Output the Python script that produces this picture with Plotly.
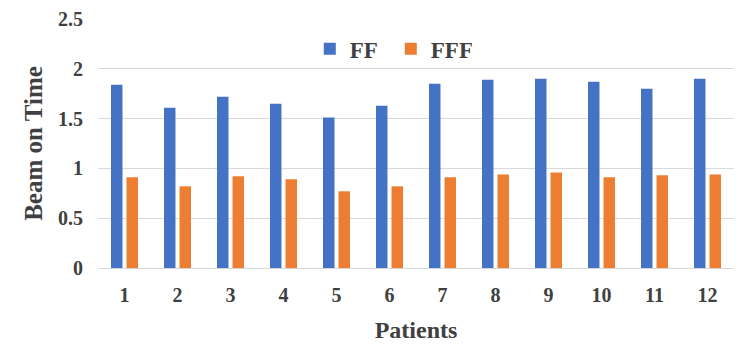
import plotly.graph_objects as go

patients = ["1", "2", "3", "4", "5", "6", "7", "8", "9", "10", "11", "12"]
ff = [1.84, 1.61, 1.72, 1.65, 1.51, 1.63, 1.85, 1.89, 1.90, 1.87, 1.80, 1.90]
fff = [0.91, 0.82, 0.92, 0.89, 0.77, 0.82, 0.91, 0.94, 0.96, 0.91, 0.93, 0.94]
y_ticks = [0, 0.5, 1, 1.5, 2, 2.5]
y_tick_labels = ["0", "0.5", "1", "1.5", "2", "2.5"]

FONT = "Liberation Serif"
TXT = "#404040"

fig = go.Figure()
fig.add_trace(go.Bar(name="FF", x=patients, y=ff, marker=dict(color="#4472C4", line=dict(width=0))))
fig.add_trace(go.Bar(name="FFF", x=patients, y=fff, marker=dict(color="#ED7D31", line=dict(width=0))))

fig.update_layout(
    width=742, height=358,
    margin=dict(l=98, r=8, t=19, b=90),
    paper_bgcolor="white", plot_bgcolor="white",
    barmode="group", bargap=0.415, bargroupgap=0.26,
    font=dict(family=FONT, color=TXT, size=20, weight="bold"),
    showlegend=True,
    legend=dict(orientation="h", x=0.333, xanchor="left", y=0.88, yanchor="middle",
                bgcolor="rgba(0,0,0,0)", font=dict(family=FONT, size=23, color=TXT, weight="bold"),
                itemwidth=30, entrywidth=36, traceorder="normal"),
    xaxis=dict(
        title=dict(text="Patients", font=dict(family=FONT, size=24, color=TXT, weight="bold"), standoff=16),
        tickfont=dict(family=FONT, size=20, color=TXT, weight="bold"),
        showgrid=False, showline=False, zeroline=False, ticks="", ticklabelstandoff=13,
    ),
    yaxis=dict(
        title=dict(text="Beam on Time", font=dict(family=FONT, size=25, color=TXT, weight="bold"), standoff=8),
        range=[0, 2.5], tickvals=y_ticks, ticktext=y_tick_labels,
        tickfont=dict(family=FONT, size=20, color=TXT, weight="bold"),
        showgrid=True, gridcolor="#D9D9D9", gridwidth=1,
        zeroline=True, zerolinecolor="#D9D9D9", zerolinewidth=1,
        showline=False, ticks="", ticklabelstandoff=14,
    ),
)

fig.write_html("out.html")
